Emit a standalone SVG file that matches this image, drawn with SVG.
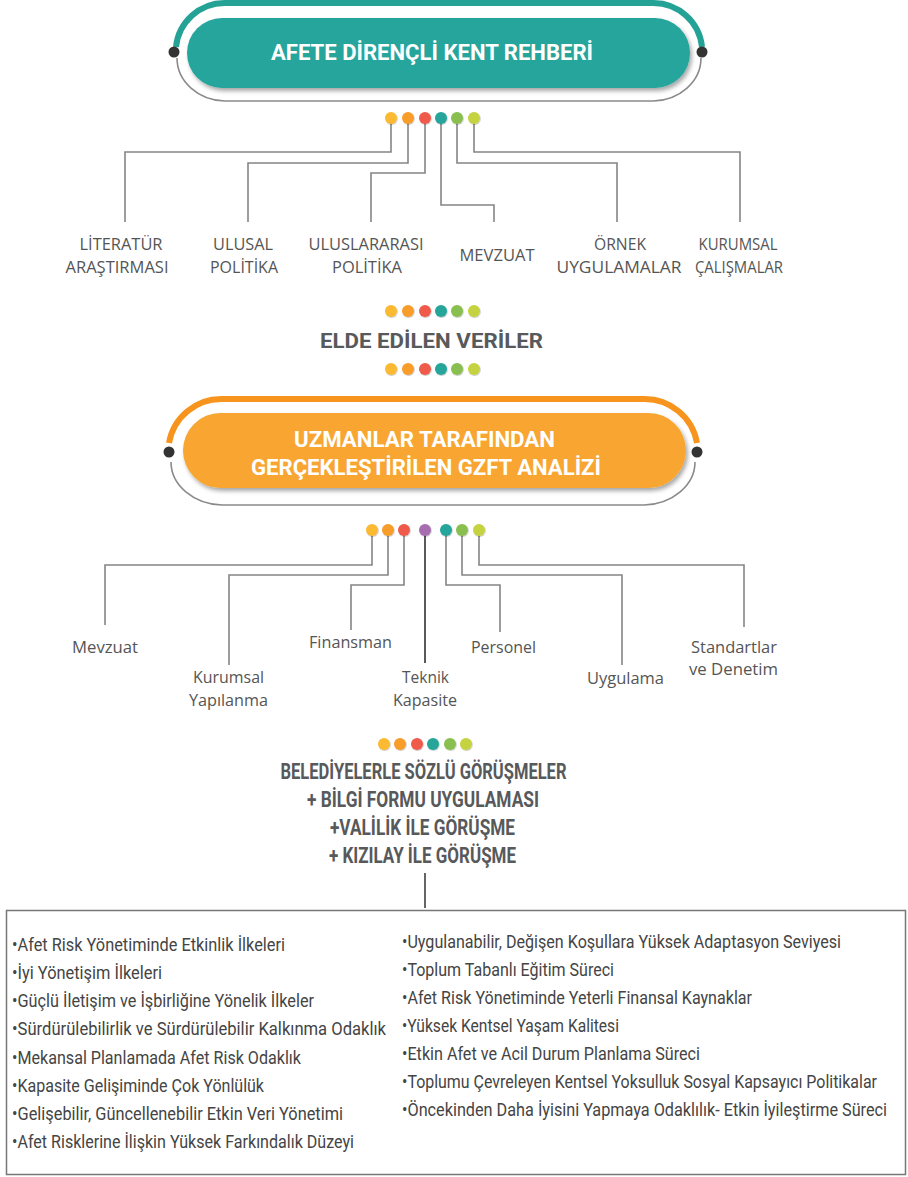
<svg xmlns="http://www.w3.org/2000/svg" width="908" height="1177" viewBox="0 0 908 1177">
<defs>
<filter id="sh" x="-10%" y="-30%" width="120%" height="160%"><feDropShadow dx="2" dy="3" stdDeviation="2" flood-color="#000" flood-opacity="0.35"/></filter>
<filter id="dsh" x="-50%" y="-50%" width="200%" height="200%"><feDropShadow dx="0.6" dy="0.8" stdDeviation="0.6" flood-color="#000" flood-opacity="0.25"/></filter>
<style>
.con{fill:none;stroke:#858585;stroke-width:1.6}
.lbl{font-family:"Open Sans","Noto Sans",sans-serif;font-size:16px;fill:#555;text-anchor:middle}
.ttl{font-family:Roboto,"Liberation Sans",sans-serif;font-weight:bold;font-size:22px;fill:#fff;text-anchor:middle}
.hd{font-family:Roboto,"Liberation Sans",sans-serif;font-weight:bold;font-size:20px;fill:#58595b;text-anchor:middle}
.hd2{font-family:Roboto,"Liberation Sans",sans-serif;font-weight:bold;font-size:22px;fill:#58595b;text-anchor:middle}
.it{font-family:Roboto,"Liberation Sans",sans-serif;font-size:18.5px;fill:#444}
.ol{fill:none;stroke:#8a8a8a;stroke-width:1.6}
.blk{fill:#333}
.y{fill:#fbba30}.o{fill:#f89c2a}.r{fill:#ef5a4c}.t{fill:#25a69a}.g{fill:#89bf4f}.l{fill:#c5d33f}.p{fill:#a66daf}
</style>
</defs>
<rect width="908" height="1177" fill="#fff"/>

<g id="connectors">
<path class="con" d="M391,118 V152 H125 V222"/>
<path class="con" d="M408,118 V163 H248 V222"/>
<path class="con" d="M425,118 V173 H371 V222"/>
<path class="con" d="M441,118 V205 H494 V222"/>
<path class="con" d="M457,118 V163 H617 V222"/>
<path class="con" d="M474,118 V152 H740 V222"/>
<path class="con" d="M372,530 V565 H105 V625"/>
<path class="con" d="M388,530 V575 H229 V665"/>
<path class="con" d="M404,530 V585 H351 V630"/>
<path class="con" d="M425,530 V663" style="stroke:#5a5a5a;stroke-width:2"/>
<path class="con" d="M446,530 V585 H500 V632"/>
<path class="con" d="M462,530 V575 H622 V665"/>
<path class="con" d="M479,530 V565 H744 V627"/>
<path class="con" d="M425,873 V908" style="stroke:#555;stroke-width:1.8"/>
</g>

<g id="node-rehber">
<path d="M176,47 A49,49 0 0 1 225,3 L653,3 A49,49 0 0 1 702,47" fill="none" stroke="#25a296" stroke-width="6"/>
<path class="ol" d="M177,58 A49,43 0 0 0 225,101 L653,101 A49,43 0 0 0 701,58"/>
<rect x="187" y="18" width="503" height="70" rx="35" fill="#26a59d" filter="url(#sh)"/>
<circle class="blk" cx="174" cy="52" r="5.5"/>
<circle class="blk" cx="702" cy="52" r="5.5"/>
<text class="ttl" x="432" y="60" textLength="322" lengthAdjust="spacingAndGlyphs">AFETE DİRENÇLİ KENT REHBERİ</text>
</g>

<g id="dots-1" filter="url(#dsh)">
<circle class="y" cx="391" cy="118" r="6"/><circle class="o" cx="408" cy="118" r="6"/><circle class="r" cx="425" cy="118" r="6"/><circle class="t" cx="441" cy="118" r="6"/><circle class="g" cx="457" cy="118" r="6"/><circle class="l" cx="474" cy="118" r="6"/>
</g>

<g id="n-literatur"><text class="lbl" x="121" y="250" textLength="83" lengthAdjust="spacingAndGlyphs">LİTERATÜR</text><text class="lbl" x="117" y="273" textLength="103" lengthAdjust="spacingAndGlyphs">ARAŞTIRMASI</text></g>
<g id="n-ulusal"><text class="lbl" x="243" y="250" textLength="60" lengthAdjust="spacingAndGlyphs">ULUSAL</text><text class="lbl" x="244" y="273" textLength="68" lengthAdjust="spacingAndGlyphs">POLİTİKA</text></g>
<g id="n-uluslararasi"><text class="lbl" x="366" y="250" textLength="115" lengthAdjust="spacingAndGlyphs">ULUSLARARASI</text><text class="lbl" x="367" y="273" textLength="70" lengthAdjust="spacingAndGlyphs">POLİTİKA</text></g>
<g id="n-mevzuat1"><text class="lbl" x="497" y="261" textLength="75" lengthAdjust="spacingAndGlyphs">MEVZUAT</text></g>
<g id="n-ornek"><text class="lbl" x="620" y="250" textLength="52" lengthAdjust="spacingAndGlyphs">ÖRNEK</text><text class="lbl" x="619" y="273" textLength="125" lengthAdjust="spacingAndGlyphs">UYGULAMALAR</text></g>
<g id="n-kurumsal"><text class="lbl" x="738" y="250" textLength="79" lengthAdjust="spacingAndGlyphs">KURUMSAL</text><text class="lbl" x="739" y="273" textLength="88" lengthAdjust="spacingAndGlyphs">ÇALIŞMALAR</text></g>

<g id="dots-2" filter="url(#dsh)">
<circle class="y" cx="391" cy="311" r="6"/><circle class="o" cx="408" cy="311" r="6"/><circle class="r" cx="425" cy="311" r="6"/><circle class="t" cx="441" cy="311" r="6"/><circle class="g" cx="457" cy="311" r="6"/><circle class="l" cx="474" cy="311" r="6"/>
</g>
<g id="n-elde"><text class="hd" x="431.5" y="348" textLength="223" lengthAdjust="spacingAndGlyphs">ELDE EDİLEN VERİLER</text></g>
<g id="dots-3" filter="url(#dsh)">
<circle class="y" cx="391" cy="369" r="6"/><circle class="o" cx="408" cy="369" r="6"/><circle class="r" cx="425" cy="369" r="6"/><circle class="t" cx="441" cy="369" r="6"/><circle class="g" cx="457" cy="369" r="6"/><circle class="l" cx="474" cy="369" r="6"/>
</g>

<g id="node-gzft">
<path d="M169,443 A53,53 0 0 1 222,399 L644,399 A53,53 0 0 1 697,443" fill="none" stroke="#f7941d" stroke-width="6"/>
<path class="ol" d="M171,462 A53,43 0 0 0 222,505 L644,505 A53,43 0 0 0 695,462"/>
<rect x="183" y="413" width="503" height="75" rx="37.5" fill="#f8a530" filter="url(#sh)"/>
<circle class="blk" cx="169" cy="452" r="5.5"/>
<circle class="blk" cx="697" cy="452" r="5.5"/>
<text class="ttl" x="424.5" y="447" textLength="261" lengthAdjust="spacingAndGlyphs">UZMANLAR TARAFINDAN</text>
<text class="ttl" x="426" y="475" textLength="350" lengthAdjust="spacingAndGlyphs">GERÇEKLEŞTİRİLEN GZFT ANALİZİ</text>
</g>

<g id="dots-4" filter="url(#dsh)">
<circle class="y" cx="372" cy="530" r="6"/><circle class="o" cx="388" cy="530" r="6"/><circle class="r" cx="404" cy="530" r="6"/><circle class="p" cx="425" cy="530" r="6"/><circle class="t" cx="446" cy="530" r="6"/><circle class="g" cx="462" cy="530" r="6"/><circle class="l" cx="479" cy="530" r="6"/>
</g>

<g id="n-mevzuat2"><text class="lbl" x="105" y="653" textLength="66" lengthAdjust="spacingAndGlyphs">Mevzuat</text></g>
<g id="n-kurumsal-yap"><text class="lbl" x="228.5" y="683" textLength="71" lengthAdjust="spacingAndGlyphs">Kurumsal</text><text class="lbl" x="228.5" y="706" textLength="79" lengthAdjust="spacingAndGlyphs">Yapılanma</text></g>
<g id="n-finansman"><text class="lbl" x="350.5" y="648" textLength="83" lengthAdjust="spacingAndGlyphs">Finansman</text></g>
<g id="n-teknik"><text class="lbl" x="425.5" y="683" textLength="47" lengthAdjust="spacingAndGlyphs">Teknik</text><text class="lbl" x="425" y="706" textLength="64" lengthAdjust="spacingAndGlyphs">Kapasite</text></g>
<g id="n-personel"><text class="lbl" x="503.5" y="653" textLength="65" lengthAdjust="spacingAndGlyphs">Personel</text></g>
<g id="n-uygulama"><text class="lbl" x="625.5" y="684" textLength="77" lengthAdjust="spacingAndGlyphs">Uygulama</text></g>
<g id="n-standartlar"><text class="lbl" x="734" y="653" textLength="86" lengthAdjust="spacingAndGlyphs">Standartlar</text><text class="lbl" x="733.5" y="675" textLength="89" lengthAdjust="spacingAndGlyphs">ve Denetim</text></g>

<g id="dots-5" filter="url(#dsh)">
<circle class="y" cx="384" cy="744" r="6"/><circle class="o" cx="400" cy="744" r="6"/><circle class="r" cx="417" cy="744" r="6"/><circle class="t" cx="433" cy="744" r="6"/><circle class="g" cx="450" cy="744" r="6"/><circle class="l" cx="466" cy="744" r="6"/>
</g>
<g id="n-gorusmeler">
<text class="hd2" x="423.5" y="779" textLength="286" lengthAdjust="spacingAndGlyphs">BELEDİYELERLE SÖZLÜ GÖRÜŞMELER</text>
<text class="hd2" x="423" y="807" textLength="232" lengthAdjust="spacingAndGlyphs">+ BİLGİ FORMU UYGULAMASI</text>
<text class="hd2" x="422.5" y="835" textLength="185" lengthAdjust="spacingAndGlyphs">+VALİLİK İLE GÖRÜŞME</text>
<text class="hd2" x="422.5" y="863" textLength="187" lengthAdjust="spacingAndGlyphs">+ KIZILAY İLE GÖRÜŞME</text>
</g>

<g id="n-ilkeler">
<rect x="6.5" y="910.5" width="899" height="264" fill="#fff" stroke="#777" stroke-width="1.5"/>
<g transform="translate(12,0) scale(0.75,1)">
<text class="it" x="0" y="951" textLength="364" lengthAdjust="spacingAndGlyphs">•Afet Risk Yönetiminde Etkinlik İlkeleri</text>
<text class="it" x="0" y="979" textLength="200" lengthAdjust="spacingAndGlyphs">•İyi Yönetişim İlkeleri</text>
<text class="it" x="0" y="1007" textLength="402.7" lengthAdjust="spacingAndGlyphs">•Güçlü İletişim ve İşbirliğine Yönelik İlkeler</text>
<text class="it" x="0" y="1035" textLength="498.7" lengthAdjust="spacingAndGlyphs">•Sürdürülebilirlik ve Sürdürülebilir Kalkınma Odaklık</text>
<text class="it" x="0" y="1064" textLength="385.3" lengthAdjust="spacingAndGlyphs">•Mekansal Planlamada Afet Risk Odaklık</text>
<text class="it" x="0" y="1092" textLength="336" lengthAdjust="spacingAndGlyphs">•Kapasite Gelişiminde Çok Yönlülük</text>
<text class="it" x="0" y="1120" textLength="441.3" lengthAdjust="spacingAndGlyphs">•Gelişebilir, Güncellenebilir Etkin Veri Yönetimi</text>
<text class="it" x="0" y="1148" textLength="456" lengthAdjust="spacingAndGlyphs">•Afet Risklerine İlişkin Yüksek Farkındalık Düzeyi</text>
</g>
<g transform="translate(402,0) scale(0.75,1)">
<text class="it" x="0" y="948" textLength="585.3" lengthAdjust="spacingAndGlyphs">•Uygulanabilir, Değişen Koşullara Yüksek Adaptasyon Seviyesi</text>
<text class="it" x="0" y="976" textLength="282.7" lengthAdjust="spacingAndGlyphs">•Toplum Tabanlı Eğitim Süreci</text>
<text class="it" x="0" y="1004" textLength="466.7" lengthAdjust="spacingAndGlyphs">•Afet Risk Yönetiminde Yeterli Finansal Kaynaklar</text>
<text class="it" x="0" y="1032" textLength="289.3" lengthAdjust="spacingAndGlyphs">•Yüksek Kentsel Yaşam Kalitesi</text>
<text class="it" x="0" y="1060" textLength="397.3" lengthAdjust="spacingAndGlyphs">•Etkin Afet ve Acil Durum Planlama Süreci</text>
<text class="it" x="0" y="1088" textLength="633.3" lengthAdjust="spacingAndGlyphs">•Toplumu Çevreleyen Kentsel Yoksulluk Sosyal Kapsayıcı Politikalar</text>
<text class="it" x="0" y="1116" textLength="646.7" lengthAdjust="spacingAndGlyphs">•Öncekinden Daha İyisini Yapmaya Odaklılık- Etkin İyileştirme Süreci</text>
</g>
</g>
</svg>
